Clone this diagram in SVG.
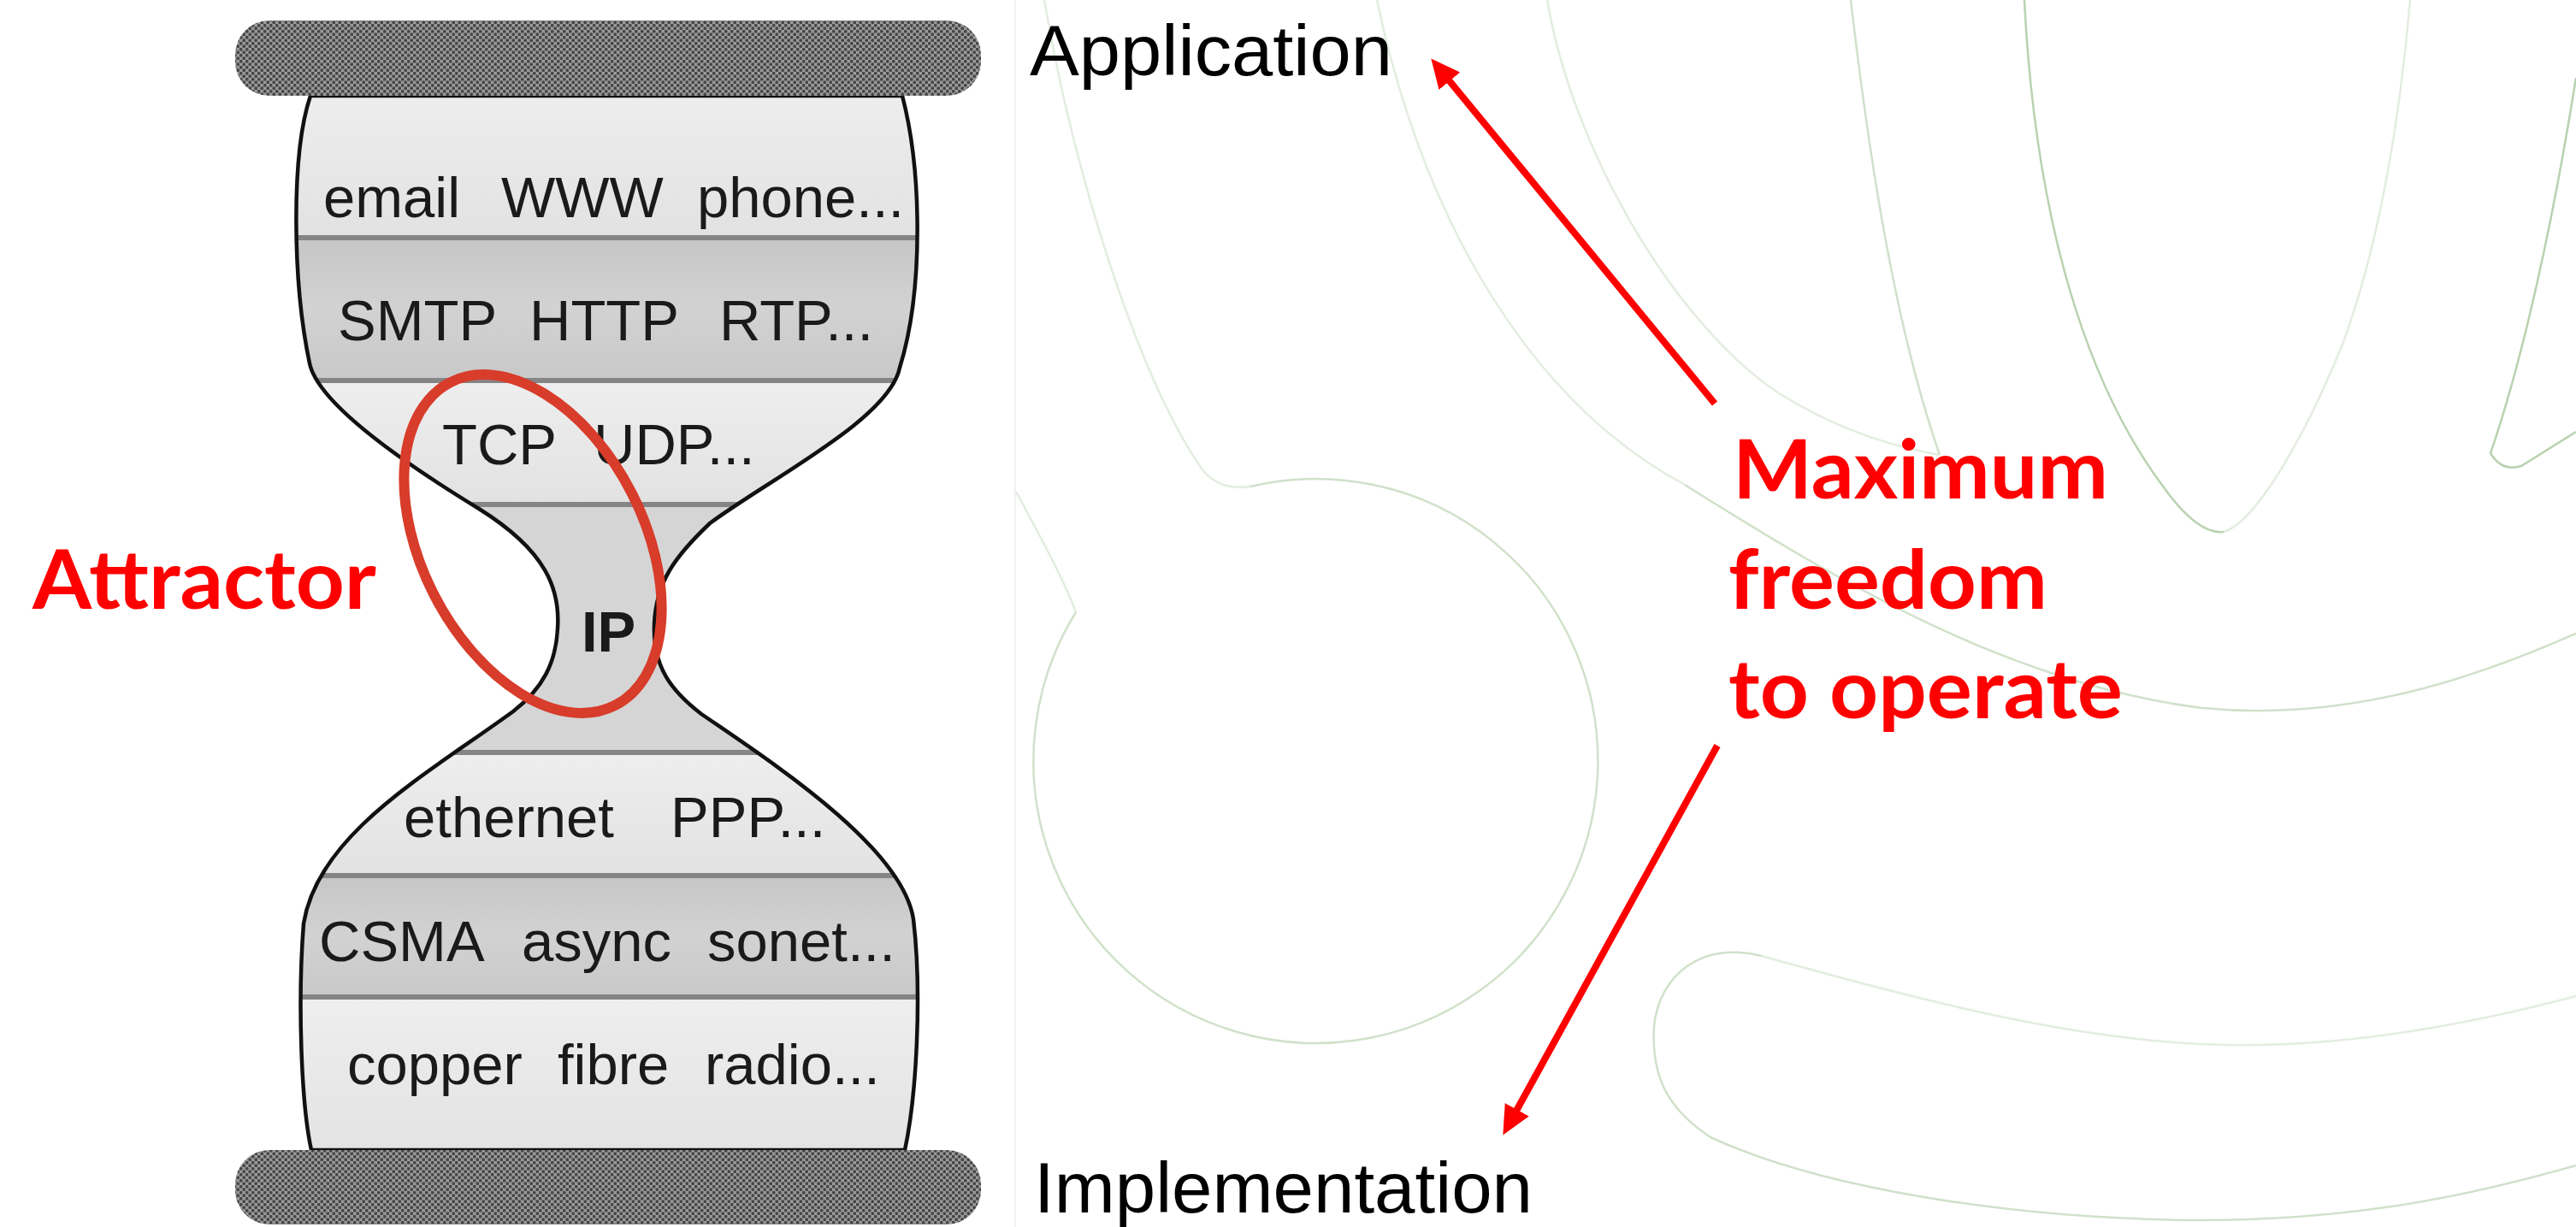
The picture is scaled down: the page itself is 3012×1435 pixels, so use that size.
<svg xmlns="http://www.w3.org/2000/svg" width="3012" height="1435" viewBox="0 0 3012 1435">
  <style>
    .row { font-family: "Liberation Sans", Arial, Helvetica, sans-serif; font-size: 67px; fill: #1a1a1a; }
    .ip { font-weight: 700; }
    .lbl { font-family: "Liberation Sans", Arial, Helvetica, sans-serif; font-size: 84px; fill: #000; }
    .red { font-family: Lato, "Open Sans", sans-serif; font-weight: 700; font-size: 95px; fill: #ff0000; }
    .gs { fill: none; stroke: #b9d2b0; stroke-width: 2.5; }
    .gm { fill: none; stroke: #d0e1ca; stroke-width: 2.5; }
    .gf { fill: none; stroke: #e3ede0; stroke-width: 2.5; }
    .divider { stroke: #858585; stroke-width: 6; }
    .arrow { stroke: #ff0000; stroke-width: 8; fill: none; marker-end: url(#ah); }
  </style>
  <defs>
    <pattern id="dots" width="7" height="7" patternUnits="userSpaceOnUse">
      <rect width="7" height="7" fill="#9a9a9a"/>
      <circle cx="1.75" cy="1.75" r="1.9" fill="#464646"/>
      <circle cx="5.25" cy="5.25" r="1.9" fill="#464646"/>
    </pattern>
    <linearGradient id="shadeLight" x1="0" y1="0" x2="0" y2="1">
      <stop offset="0" stop-color="#eeeeee"/>
      <stop offset="1" stop-color="#e2e2e2"/>
    </linearGradient>
    <linearGradient id="shadeDark" x1="0" y1="0" x2="0" y2="1">
      <stop offset="0" stop-color="#c6c6c6"/>
      <stop offset="0.5" stop-color="#d2d2d2"/>
      <stop offset="1" stop-color="#c8c8c8"/>
    </linearGradient>
    <path id="hgOutline" d="M363,112 C340,180 342,330 362,425 C372,472 470,540 560,595 C640,645 655,690 652,735 C650,775 635,805 600,832 C500,905 372,975 355,1080 C348,1170 352,1290 364,1345 L1058,1345 C1072,1280 1078,1160 1068,1075 C1055,990 900,890 820,835 C785,808 763,780 765,730 C767,680 790,650 830,612 C900,560 1040,490 1052,430 C1080,340 1078,200 1055,112 Z"/>
    <clipPath id="hgClip">
      <use href="#hgOutline"/>
    </clipPath>
    <marker id="ah" markerUnits="userSpaceOnUse" markerWidth="34" markerHeight="32" viewBox="0 0 34 32" refX="14" refY="16" orient="auto">
      <path d="M0,0 L34,16 L0,32 Z" fill="#ff0000"/>
    </marker>
  </defs>

  <rect width="3012" height="1435" fill="#ffffff"/>

  <!-- faint decorative backdrop strokes -->
  <g id="backdrop">
    <line x1="1187" y1="0" x2="1187" y2="1435" stroke="#f1f1f1" stroke-width="2"/>
    <path class="gf" d="M1221,0 C1255,200 1330,440 1405,548 C1420,568 1440,572 1462,569"/>
    <path class="gm" d="M1462,569 A330,330 0 1 1 1258,716"/>
    <path class="gf" d="M1258,716 C1245,680 1215,625 1188,575"/>
    <path class="gf" d="M1610,0 C1665,260 1790,470 1970,567"/>
    <path class="gm" d="M1970,567 C2150,680 2350,800 2575,828 C2750,845 2900,790 3012,741"/>
    <path class="gf" d="M1809,0 C1840,180 1960,380 2080,460 C2160,510 2230,525 2268,532"/>
    <path class="gm" d="M2164,0 C2185,180 2215,380 2268,532"/>
    <path class="gs" d="M2367,0 C2380,260 2440,450 2530,570 C2555,605 2580,625 2600,622"/>
    <path class="gf" d="M2600,622 C2640,610 2700,500 2740,400 C2780,290 2805,150 2818,0"/>
    <path class="gs" d="M3012,91 C2985,260 2950,420 2912,530 Q2925,552 2948,545 L3012,505"/>
    <path class="gf" d="M3012,1165 C2880,1200 2740,1225 2600,1222 C2420,1218 2230,1165 2060,1118"/>
    <path class="gm" d="M2060,1118 C1990,1100 1940,1140 1934,1200 C1930,1265 1955,1300 2000,1330 C2130,1390 2350,1425 2565,1427 C2760,1428 2900,1395 3012,1363"/>
  </g>

  <!-- protocol hourglass -->
  <g id="hourglass">
    <g clip-path="url(#hgClip)">
      <g id="layer-apps">
        <rect x="300" y="100" width="800" height="178" fill="url(#shadeLight)"/>
      </g>
      <g id="layer-app-protocols">
        <rect x="300" y="278" width="800" height="167" fill="url(#shadeDark)"/>
      </g>
      <g id="layer-transport">
        <rect x="300" y="445" width="800" height="145" fill="url(#shadeLight)"/>
      </g>
      <g id="layer-ip">
        <rect x="300" y="590" width="800" height="290" fill="#d5d5d5"/>
      </g>
      <g id="layer-link">
        <rect x="300" y="880" width="800" height="144" fill="url(#shadeLight)"/>
      </g>
      <g id="layer-mac">
        <rect x="300" y="1024" width="800" height="142" fill="url(#shadeDark)"/>
      </g>
      <g id="layer-physical">
        <rect x="300" y="1166" width="800" height="200" fill="url(#shadeLight)"/>
      </g>
      <g id="dividers">
        <line class="divider" x1="300" y1="278" x2="1100" y2="278"/>
        <line class="divider" x1="300" y1="445" x2="1100" y2="445"/>
        <line class="divider" x1="300" y1="590" x2="1100" y2="590"/>
        <line class="divider" x1="300" y1="880" x2="1100" y2="880"/>
        <line class="divider" x1="300" y1="1024" x2="1100" y2="1024"/>
        <line class="divider" x1="300" y1="1166" x2="1100" y2="1166"/>
      </g>
    </g>
    <use href="#hgOutline" fill="none" stroke="#111" stroke-width="4.5"/>

    <g id="layer-texts">
      <text class="row" y="254"><tspan x="378">email</tspan> <tspan x="586">WWW</tspan> <tspan x="815">phone...</tspan></text>
      <text class="row" y="398"><tspan x="395">SMTP</tspan> <tspan x="619">HTTP</tspan> <tspan x="841">RTP...</tspan></text>
      <text class="row" y="543"><tspan x="517">TCP</tspan> <tspan x="694">UDP...</tspan></text>
      <text class="row ip" x="680" y="762">IP</text>
      <text class="row" y="979"><tspan x="472">ethernet</tspan> <tspan x="784">PPP...</tspan></text>
      <text class="row" y="1124"><tspan x="373">CSMA</tspan> <tspan x="610">async</tspan> <tspan x="827">sonet...</tspan></text>
      <text class="row" y="1268"><tspan x="406">copper</tspan> <tspan x="652">fibre</tspan> <tspan x="824">radio...</tspan></text>
    </g>

    <g id="top-bar">
      <rect x="275" y="24" width="872" height="88" rx="40" fill="url(#dots)"/>
    </g>
    <g id="bottom-bar">
      <rect x="275" y="1345" width="872" height="87" rx="40" fill="url(#dots)"/>
    </g>
  </g>

  <g id="attractor">
    <ellipse cx="623" cy="636" rx="130" ry="212" transform="rotate(-27 623 636)" fill="none" stroke="#d83c2a" stroke-width="12"/>
    <text class="red" x="38" y="712" textLength="402" lengthAdjust="spacingAndGlyphs">Attractor</text>
  </g>

  <g id="connectors">
    <line class="arrow" x1="2005" y1="472" x2="1686" y2="84"/>
    <line class="arrow" x1="2008" y1="872" x2="1767" y2="1310"/>
  </g>

  <g id="label-application">
    <text class="lbl" x="1204" y="88" textLength="424" lengthAdjust="spacingAndGlyphs">Application</text>
  </g>
  <g id="label-implementation">
    <text class="lbl" x="1209" y="1418" textLength="583" lengthAdjust="spacingAndGlyphs">Implementation</text>
  </g>
  <g id="label-freedom">
    <text class="red" x="2026" y="583" textLength="439" lengthAdjust="spacingAndGlyphs">Maximum</text>
    <text class="red" x="2021" y="712" textLength="373" lengthAdjust="spacingAndGlyphs">freedom</text>
    <text class="red" x="2021" y="840" textLength="461" lengthAdjust="spacingAndGlyphs">to operate</text>
  </g>
</svg>
